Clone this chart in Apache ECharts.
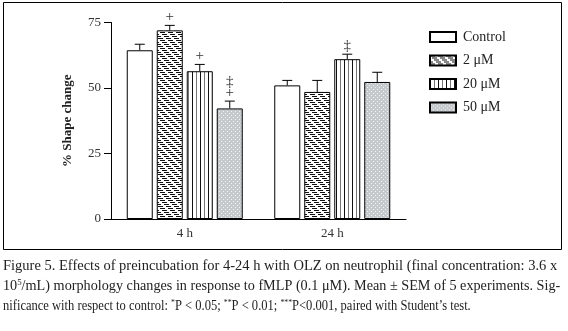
<!DOCTYPE html>
<html>
<head>
<meta charset="utf-8">
<script src="https://cdn.jsdelivr.net/npm/echarts@6/dist/echarts.min.js"></script>
<style>
  html, body { margin: 0; padding: 0; background: #fff; }
  #chart { width: 568px; height: 331px; }
</style>
</head>
<body>
<div id="chart"></div>
<script>
// data
var categories = ['4 h', '24 h']
var seriesNames = ['Control', '2 \u03bcM', '20 \u03bcM', '50 \u03bcM']
var control = [64.4, 51.0]
var uM2 = [72.0, 48.5]
var uM20 = [56.4, 61.0]
var uM50 = [42.2, 52.3]
var sem = [[2.3, 1.9], [1.9, 4.4], [2.6, 1.9], [2.8, 3.7]]
var marks = [['', ''], ['+', ''], ['+', '\u2021'], ['\u2021\n+', '']]
var yTicks = [0, 25, 50, 75]

var serif = '"Liberation Serif", "DejaVu Serif", serif'

function makePattern(kind) {
  var c = document.createElement('canvas')
  var ctx = c.getContext('2d')
  if (kind === 'hatch') {
    c.width = 8; c.height = 8
    ctx.fillStyle = '#fff'
    ctx.fillRect(0, 0, 8, 8)
    ctx.fillStyle = '#111'
    for (var r = 0; r < 8; r += 2) {
      for (var k = 0; k < 5; k++) {
        ctx.fillRect((r + k) % 8, r, 1, 1)
      }
    }
  } else if (kind === 'vert') {
    c.width = 8; c.height = 4
    ctx.fillStyle = '#fff'
    ctx.fillRect(0, 0, 8, 4)
    ctx.fillStyle = '#111'
    ctx.fillRect(0, 0, 1, 4)
    ctx.fillStyle = '#777'
    ctx.fillRect(4, 0, 1, 4)
  } else {
    c.width = 4; c.height = 4
    ctx.fillStyle = '#c6c9cc'
    ctx.fillRect(0, 0, 4, 4)
    ctx.fillStyle = '#eef4f8'
    ctx.fillRect(1, 1, 1, 1)
    ctx.fillRect(3, 3, 1, 1)
  }
  return { image: c, repeat: 'repeat' }
}

var fills = ['#fff', makePattern('hatch'), makePattern('vert'), makePattern('dots')]
var values = [control, uM2, uM20, uM50]

var barW = 26
var barGapPx = 4

var chart = echarts.init(document.getElementById('chart'))

var series = values.map(function(v, i) {
  return {
    name: seriesNames[i],
    type: 'bar',
    data: v,
    barWidth: barW,
    barGap: (barGapPx / barW * 100) + '%',
    itemStyle: { color: fills[i], borderColor: '#000', borderWidth: 1 },
    animation: false
  }
})

var errData = []
values.forEach(function(v, i) {
  v.forEach(function(val, j) {
    errData.push([j, i, val, sem[i][j], marks[i][j]])
  })
})

series.push({
  type: 'custom',
  data: errData,
  silent: true,
  animation: false,
  encode: { x: 0, y: 2 },
  renderItem: function(params, api) {
    var cat = api.value(0)
    var idx = api.value(1)
    var mean = api.value(2)
    var err = api.value(3)
    var mk = errData[params.dataIndex][4]
    var base = api.coord([cat, mean])
    var top = api.coord([cat, mean + err])
    var off = (idx - 1.5) * (barW + barGapPx)
    var x = base[0] + off
    var children = [
      { type: 'line', shape: { x1: x, y1: base[1], x2: x, y2: top[1] }, style: { stroke: '#000', lineWidth: 1 } },
      { type: 'line', shape: { x1: x - 5, y1: top[1], x2: x + 5, y2: top[1] }, style: { stroke: '#000', lineWidth: 1 } }
    ]
    if (mk) {
      children.push({
        type: 'text',
        style: {
          text: mk, x: x, y: top[1] - 3,
          align: 'center', verticalAlign: 'bottom',
          font: '15px ' + serif, fill: '#333', lineHeight: 11
        }
      })
    }
    return { type: 'group', children: children }
  }
})

var captionLines = [
  'Figure 5. Effects of preincubation for 4-24 h with OLZ on neutrophil (final concentration: 3.6 x',
  '10{sup|5}/mL) morphology changes in response to fMLP (0.1 \u03bcM). Mean \u00b1 SEM of 5 experiments. Sig-',
  'nificance with respect to control: {sup|*}P < 0.05; {sup|**}P < 0.01; {sup|***}P<0.001, paired with Student\u2019s test.'
]
// width each caption line takes in the figure (last one kept a bit looser)
var captionWidths = [558, 560, 482]
var captionFont = '14.5px ' + serif

var measure = document.createElement('canvas').getContext('2d')
measure.font = captionFont

var graphics = [
  { type: 'rect', shape: { x: 3.5, y: 2.5, width: 558, height: 247 }, style: { fill: 'none', stroke: '#000', lineWidth: 1 }, silent: true }
]
captionLines.forEach(function(t, i) {
  var plain = t.replace(/\{sup\|([^}]*)\}/g, '$1')
  var w = measure.measureText(plain).width
  graphics.push({
    type: 'text',
    x: 3,
    y: 259 + i * 19.5,
    scaleX: Math.min(1, captionWidths[i] / w),
    style: {
      text: t,
      font: captionFont,
      fill: '#222',
      rich: { sup: { fontSize: 9, verticalAlign: 'top', padding: [0, 0, 7, 0], fontFamily: serif, fill: '#222' } }
    }
  })
})

chart.setOption({
  backgroundColor: '#fff',
  animation: false,
  textStyle: { fontFamily: serif },
  grid: { left: 111, top: 22.5, width: 295, bottom: 112, containLabel: false },
  legend: {
    orient: 'vertical',
    left: 424,
    top: 25,
    itemWidth: 26,
    itemHeight: 10,
    itemGap: 9.5,
    icon: 'rect',
    data: seriesNames,
    textStyle: { fontFamily: serif, fontSize: 14, color: '#222', padding: [0, 0, 0, 2] }
  },
  xAxis: {
    type: 'category',
    data: categories,
    axisLine: { lineStyle: { color: '#000', width: 1 } },
    axisTick: { alignWithLabel: true, length: 5, lineStyle: { color: '#000' } },
    axisLabel: { color: '#333', fontSize: 13, margin: 8, fontFamily: serif }
  },
  yAxis: {
    type: 'value',
    min: yTicks[0],
    max: yTicks[yTicks.length - 1],
    interval: 25,
    name: '% Shape change',
    nameLocation: 'middle',
    nameGap: 37,
    nameTextStyle: { fontFamily: serif, fontSize: 13, fontWeight: 'bold', color: '#222' },
    axisLine: { show: true, lineStyle: { color: '#000', width: 1 } },
    axisTick: { show: true, length: 7, lineStyle: { color: '#000' } },
    axisLabel: { color: '#333', fontSize: 13, margin: 10, fontFamily: serif },
    splitLine: { show: false }
  },
  series: series,
  graphic: graphics
})
</script>
</body>
</html>
